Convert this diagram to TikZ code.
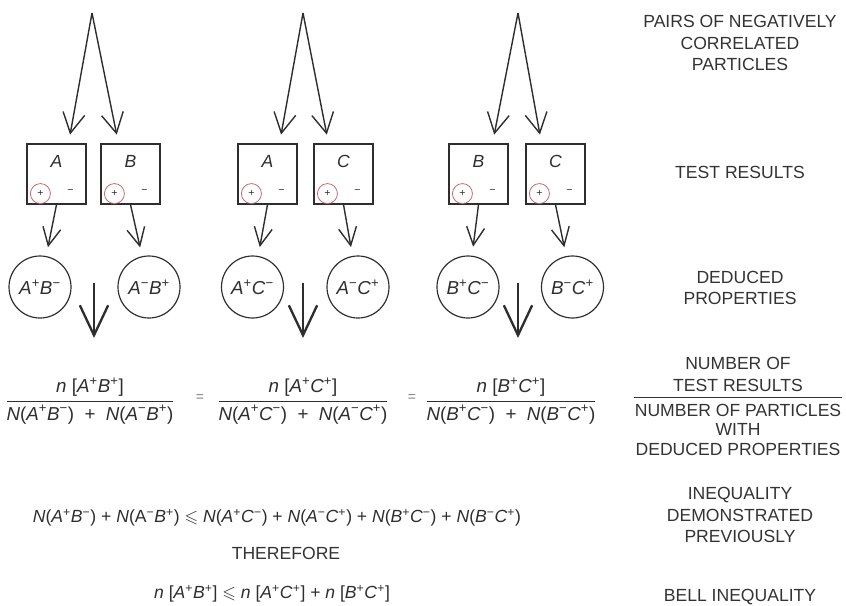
\documentclass[tikz,border=0pt]{standalone}
\usepackage{fontspec}
\setmainfont{Liberation Sans}
\usepackage{amsmath, amssymb}
\usepackage{xcolor}
\usetikzlibrary{calc, arrows.meta, positioning}

\definecolor{inkgray}{HTML}{2E2E2E}
\definecolor{labelgray}{HTML}{333333}
\definecolor{markred}{HTML}{C46A7A}

\newcommand{\posv}[1]{\textit{#1}\textsuperscript{+}}
\newcommand{\negv}[1]{\textit{#1}\textsuperscript{−}}
\newcommand{\wplus}{\hspace{0.55em}+\hspace{0.55em}}

\begin{document}
\begin{tikzpicture}[x=0.03cm, y=-0.03cm, color=inkgray, line width=1.2pt,
		>={Straight Barb[length=0.6cm, width=0.66cm]}]
	\tikzstyle{test} = [draw, line width=1pt, minimum width=1.77cm, minimum height=1.8cm, inner sep=0pt]
	\tikzstyle{prop} = [draw, line width=1pt, circle, minimum size=1.86cm, inner sep=0pt, font=\fontsize{16}{18}\selectfont]
	\tikzstyle{hit} = [draw=markred, line width=0.7pt, circle, minimum size=0.6cm, inner sep=0pt, font=\fontsize{9}{9}\selectfont]
	\tikzstyle{sign} = [inner sep=0pt, font=\fontsize{9}{9}\selectfont]
	\tikzstyle{tag} = [inner sep=0pt, font=\fontsize{15}{17}\selectfont\itshape]
	\tikzstyle{side} = [align=center, text=labelgray, inner sep=0pt, font=\fontsize{15}{18.5}\selectfont]
	\tikzstyle{formula} = [inner sep=0pt, font=\fontsize{15}{18}\selectfont]
	\tikzstyle{ratio} = [inner sep=0pt, font=\fontsize{16}{19}\selectfont]
	\tikzstyle{small} = [->, >={Straight Barb[length=0.54cm, width=0.54cm]}]
	\tikzstyle{big} = [->, line width=2pt, >={Straight Barb[length=0.9cm, width=0.85cm]}]

	\useasboundingbox (0,0) rectangle (846,605);

	% sources of the particle pairs
	\coordinate (src1) at (92,13);
	\coordinate (src2) at (303,13);
	\coordinate (src3) at (518,13);

	% test results
	\node[test] at (56.5,174)	(tA1) {};
	\node[test] at (130.5,174)	(tB1) {};
	\node[test] at (267.5,174)	(tA2) {};
	\node[test] at (343.5,174)	(tC2) {};
	\node[test] at (478.5,174)	(tB3) {};
	\node[test] at (555.5,174)	(tC3) {};

	\node[tag] at ($(tA1.north)+(0,18)$) (lA1) {A};
	\node[tag] at ($(tB1.north)+(0,18)$) (lB1) {B};
	\node[tag] at ($(tA2.north)+(0,18)$) (lA2) {A};
	\node[tag] at ($(tC2.north)+(0,18)$) (lC2) {C};
	\node[tag] at ($(tB3.north)+(0,18)$) (lB3) {B};
	\node[tag] at ($(tC3.north)+(0,18)$) (lC3) {C};

	\node[hit] at ($(tA1.south west)+(14,-11)$) (pA1) {+};
	\node[hit] at ($(tB1.south west)+(14,-11)$) (pB1) {+};
	\node[hit] at ($(tA2.south west)+(14,-11)$) (pA2) {+};
	\node[hit] at ($(tC2.south west)+(14,-11)$) (pC2) {+};
	\node[hit] at ($(tB3.south west)+(14,-11)$) (pB3) {+};
	\node[hit] at ($(tC3.south west)+(14,-11)$) (pC3) {+};

	\node[sign] at ($(tA1.south west)+(44,-13)$) (mA1) {−};
	\node[sign] at ($(tB1.south west)+(44,-13)$) (mB1) {−};
	\node[sign] at ($(tA2.south west)+(44,-13)$) (mA2) {−};
	\node[sign] at ($(tC2.south west)+(44,-13)$) (mC2) {−};
	\node[sign] at ($(tB3.south west)+(44,-13)$) (mB3) {−};
	\node[sign] at ($(tC3.south west)+(44,-13)$) (mC3) {−};

	% deduced properties
	\node[prop] at (40,287)		(dAB) {\posv{A}\negv{B}};
	\node[prop] at (149,287)	(dBA) {\negv{A}\posv{B}};
	\node[prop] at (252.5,287)	(dAC) {\posv{A}\negv{C}};
	\node[prop] at (358,287)	(dCA) {\negv{A}\posv{C}};
	\node[prop] at (468,287)	(dBC) {\posv{B}\negv{C}};
	\node[prop] at (572.5,287)	(dCB) {\negv{B}\posv{C}};

	\draw[->, shorten >=0.27cm] (src1) -- ($(tA1.north)+(12,0)$);
	\draw[->, shorten >=0.27cm] (src1) -- ($(tB1.north)+(-12,0)$);
	\draw[->, shorten >=0.27cm] (src2) -- ($(tA2.north)+(12,0)$);
	\draw[->, shorten >=0.27cm] (src2) -- ($(tC2.north)+(-15,0)$);
	\draw[->, shorten >=0.27cm] (src3) -- ($(tB3.north)+(14,0)$);
	\draw[->, shorten >=0.27cm] (src3) -- ($(tC3.north)+(-14,0)$);

	\path[small, shorten >=0.27cm]
	(tA1.south) edge (dAB)
	(tB1.south) edge (dBA)
	(tA2.south) edge (dAC)
	(tC2.south) edge (dCA)
	(tB3.south) edge (dBC)
	(tC3.south) edge (dCB);

	% ratios
	\coordinate (dn1) at (94,283);	\coordinate (to1) at (94,338);
	\coordinate (dn2) at (303,283);	\coordinate (to2) at (303,338);
	\coordinate (dn3) at (518,283);	\coordinate (to3) at (518,338);
	\draw[big] (dn1) -- (to1);
	\draw[big] (dn2) -- (to2);
	\draw[big] (dn3) -- (to3);

	\node[ratio] at (90,401) (frac1)
		{$\dfrac{\text{\textit{n} [\posv{A}\posv{B}]}}{\text{\textit{N}(\posv{A}\negv{B})\wplus\textit{N}(\negv{A}\posv{B})}}$};
	\node[ratio] at (303,401) (frac2)
		{$\dfrac{\text{\textit{n} [\posv{A}\posv{C}]}}{\text{\textit{N}(\posv{A}\negv{C})\wplus\textit{N}(\negv{A}\posv{C})}}$};
	\node[ratio] at (511,401) (frac3)
		{$\dfrac{\text{\textit{n} [\posv{B}\posv{C}]}}{\text{\textit{N}(\posv{B}\negv{C})\wplus\textit{N}(\negv{B}\posv{C})}}$};
	\node[sign, font=\fontsize{12}{12}\selectfont, text=gray] at (200,398) (eq1) {=};
	\node[sign, font=\fontsize{12}{12}\selectfont, text=gray] at (412,398) (eq2) {=};

	% inequalities
	\node[formula] at (277,518) (ineq)
		{\textit{N}(\posv{A}\negv{B}) + \textit{N}(A\textsuperscript{−}\posv{B}) $\leqslant$ \textit{N}(\posv{A}\negv{C}) + \textit{N}(\negv{A}\posv{C}) + \textit{N}(\posv{B}\negv{C}) + \textit{N}(\negv{B}\posv{C})};
	\node[side] at (286,553) (ther) {THEREFORE};
	\node[formula] at (272,594) (bell)
		{\textit{n} [\posv{A}\posv{B}] $\leqslant$ \textit{n} [\posv{A}\posv{C}] + \textit{n} [\posv{B}\posv{C}]};

	% side labels
	\node[side] at (740,43)		(lpair) {PAIRS OF NEGATIVELY\\CORRELATED\\PARTICLES};
	\node[side] at (740,172)	(ltest) {TEST RESULTS};
	\node[side] at (740,288)	(lded)	{DEDUCED\\PROPERTIES};
	\node[side, anchor=south] at (738,392) (lnum) {NUMBER OF\\TEST RESULTS};
	\node[side, anchor=north, inner ysep=5.5pt, font=\fontsize{15}{16.5}\selectfont] at (738,397) (lden) {NUMBER OF PARTICLES\\WITH\\DEDUCED PROPERTIES};
	\draw[line width=0.8pt, labelgray] (lden.north west) -- (lden.north east);
	\node[side] at (740,515)	(lineq) {INEQUALITY\\DEMONSTRATED\\PREVIOUSLY};
	\node[side] at (740,597)	(lbell) {BELL INEQUALITY};
\end{tikzpicture}
\end{document}
